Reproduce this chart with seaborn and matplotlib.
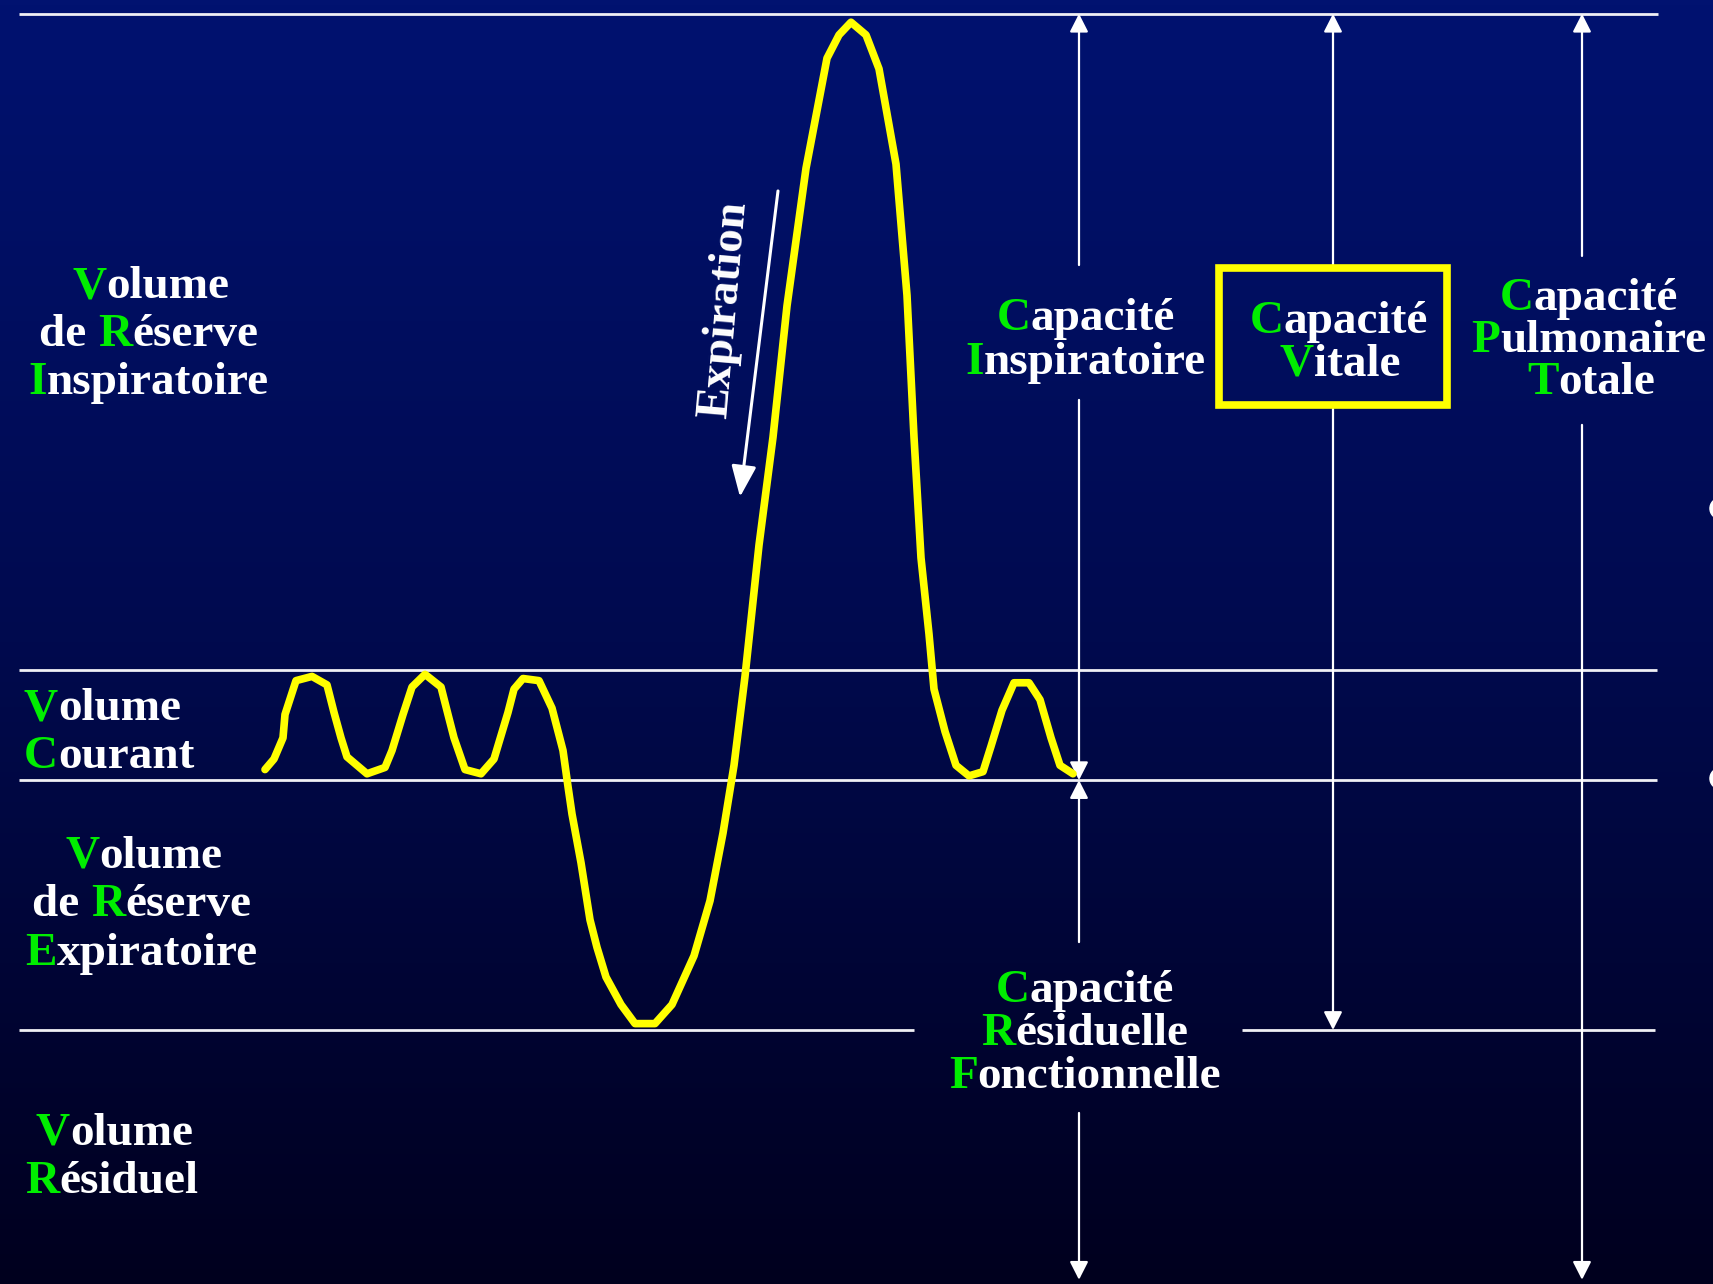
import numpy as np
import seaborn as sns
import matplotlib.pyplot as plt
import matplotlib.transforms as mtransforms
from matplotlib.patches import Rectangle

# spirogram trace: time (s) and lung volume (L)
time_s = [2.65, 2.74, 2.83, 2.85, 2.96, 3.12, 3.27, 3.34, 3.41, 3.47, 3.67,
          3.85, 3.92, 4.03, 4.12, 4.25, 4.41, 4.48, 4.54, 4.65, 4.81, 4.94,
          5.08, 5.14, 5.23, 5.39, 5.52, 5.63, 5.68, 5.72, 5.81, 5.90, 5.97,
          6.06, 6.21, 6.35, 6.55, 6.72, 6.94, 7.10, 7.23, 7.34, 7.45, 7.59,
          7.73, 7.87, 8.06, 8.27, 8.39, 8.51, 8.66, 8.79, 8.96, 9.07, 9.14,
          9.21, 9.29, 9.34, 9.45, 9.56, 9.69, 9.83, 9.91, 10.02, 10.14, 10.29,
          10.40, 10.51, 10.60, 10.73]
volume_l = [2.43, 2.48, 2.58, 2.69, 2.85, 2.87, 2.83, 2.70, 2.58, 2.49, 2.41,
            2.44, 2.52, 2.69, 2.82, 2.88, 2.82, 2.69, 2.58, 2.43, 2.41, 2.48,
            2.70, 2.81, 2.86, 2.85, 2.72, 2.52, 2.35, 2.22, 1.99, 1.72, 1.59,
            1.45, 1.32, 1.23, 1.23, 1.32, 1.55, 1.81, 2.13, 2.45, 2.87, 3.49,
            4.00, 4.62, 5.27, 5.79, 5.90, 5.96, 5.90, 5.74, 5.29, 4.67, 4.00,
            3.43, 3.07, 2.81, 2.61, 2.45, 2.40, 2.42, 2.54, 2.71, 2.84, 2.84,
            2.76, 2.58, 2.45, 2.41]

# reference levels (L)
TLC = 6.00
TIDAL_TOP = 2.90
FRC = 2.38
RV = 1.20

GREEN = '#00EE00'
WHITE = 'white'
YELLOW = '#FFFF00'

label_vri = [[('V', GREEN), ('olume', WHITE)],
             [('de ', WHITE), ('R', GREEN), ('éserve', WHITE)],
             [('I', GREEN), ('nspiratoire', WHITE)]]
label_vc = [[('V', GREEN), ('olume', WHITE)],
            [('C', GREEN), ('ourant', WHITE)]]
label_vre = [[('V', GREEN), ('olume', WHITE)],
             [('de ', WHITE), ('R', GREEN), ('éserve', WHITE)],
             [('E', GREEN), ('xpiratoire', WHITE)]]
label_vr = [[('V', GREEN), ('olume', WHITE)],
            [('R', GREEN), ('ésiduel', WHITE)]]
label_ci = [[('C', GREEN), ('apacité', WHITE)],
            [('I', GREEN), ('nspiratoire', WHITE)]]
label_cv = [[('C', GREEN), ('apacité', WHITE)],
            [('V', GREEN), ('itale', WHITE)]]
label_cpt = [[('C', GREEN), ('apacité', WHITE)],
             [('P', GREEN), ('ulmonaire', WHITE)],
             [('T', GREEN), ('otale', WHITE)]]
label_crf = [[('C', GREEN), ('apacité', WHITE)],
             [('R', GREEN), ('ésiduelle', WHITE)],
             [('F', GREEN), ('onctionnelle', WHITE)]]

W, H, DPI = 1713, 1284, 100
XMAX, YMAX = 17.13, 6.065

sns.set_theme(style='dark')
plt.rcParams['font.family'] = ['Liberation Serif', 'DejaVu Serif']
FONT = dict(fontsize=34, fontweight='bold')

fig = plt.figure(figsize=(W / DPI, H / DPI), dpi=DPI)
ax = fig.add_axes([0, 0, 1, 1])

# dark blue vertical gradient background
stops = np.array([[1, 18, 112], [0, 10, 78], [0, 0, 30]]) / 255
pos = np.linspace(0, 1, 256)
grad = np.stack([np.interp(pos, [0, 0.5, 1], stops[:, c]) for c in range(3)], axis=-1)
ax.imshow(grad[:, None, :], extent=[0, XMAX, 0, YMAX], aspect='auto', zorder=0)

ax.set_xlim(0, XMAX)
ax.set_ylim(0, YMAX)
ax.axis('off')

# level lines
for lvl, x0, x1 in [(TLC, 0.19, 16.58), (TIDAL_TOP, 0.19, 16.57), (FRC, 0.19, 16.57),
                    (RV, 0.19, 9.14), (RV, 12.42, 16.55)]:
    ax.hlines(lvl, x0, x1, color='#F0F0F5', lw=2, zorder=1)

# spirogram
sns.lineplot(x=time_s, y=volume_l, ax=ax, color=YELLOW, lw=5.5, sort=False,
             estimator=None, zorder=3)


def arrow(x, y_from, y_to, lw=1.6, hl=0.55, hw=0.28):
    ax.annotate('', xy=(x, y_to), xytext=(x, y_from), zorder=2,
                arrowprops=dict(arrowstyle=f'-|>,head_length={hl},head_width={hw}',
                                mutation_scale=20, lw=lw, color=WHITE,
                                shrinkA=0, shrinkB=0))


# capacity arrows
arrow(10.79, 4.813, TLC)
arrow(10.79, 4.176, FRC)
arrow(10.79, 1.615, FRC)
arrow(10.79, 0.808, 0.02)
arrow(13.33, 4.813, TLC)
arrow(13.33, 4.133, RV)
arrow(15.82, 4.856, TLC)
arrow(15.82, 4.058, 0.02)

# expiration arrow and label
ax.annotate('', xy=(7.40, 3.718), xytext=(7.78, 5.163), zorder=2,
            arrowprops=dict(arrowstyle='-|>,head_length=0.95,head_width=0.38',
                            mutation_scale=20, lw=2.2, color=WHITE,
                            shrinkA=0, shrinkB=0))
ax.text(7.25, 4.601, 'Expiration', rotation=85, rotation_mode='anchor',
        ha='center', va='center', color=WHITE, **FONT)

# box around vital capacity
ax.add_patch(Rectangle((12.19, 4.152), 2.28, 0.647, fill=False,
                       edgecolor=YELLOW, lw=5.5, zorder=2))

# bullets cut by the right edge
ax.scatter([17.20, 17.20], [3.666, 2.390], s=230, color=WHITE, clip_on=False, zorder=4)

renderer = fig.canvas.get_renderer()


def text_width(s):
    t = ax.text(0, 0, s, **FONT)
    w = t.get_window_extent(renderer).width
    t.remove()
    return w


def two_tone(x, y0, step, rows, align='center'):
    sentinel = text_width('l')
    for i, row in enumerate(rows):
        y = y0 - i * step
        full = ''.join(s for s, _ in row)
        total = text_width(full)
        start = -total / 2 if align == 'center' else 0
        prefix = ''
        for s, c in row:
            off = text_width(prefix + 'l') - sentinel if prefix else 0
            tr = mtransforms.offset_copy(ax.transData, fig=fig, x=start + off, y=0, units='dots')
            ax.text(x, y, s, color=c, ha='left', va='baseline', transform=tr, zorder=5, **FONT)
            prefix += s


two_tone(1.49, 4.657, 0.227, label_vri)
two_tone(0.24, 2.664, 0.227, label_vc, align='left')
two_tone(1.415, 1.965, 0.229, label_vre)
two_tone(1.12, 0.657, 0.227, label_vr)
two_tone(10.86, 4.506, 0.207, label_ci)
two_tone(13.39, 4.492, 0.203, label_cv)
two_tone(15.89, 4.601, 0.199, label_cpt)
two_tone(10.85, 1.332, 0.203, label_crf)

fig.savefig('out.png', dpi=DPI)
